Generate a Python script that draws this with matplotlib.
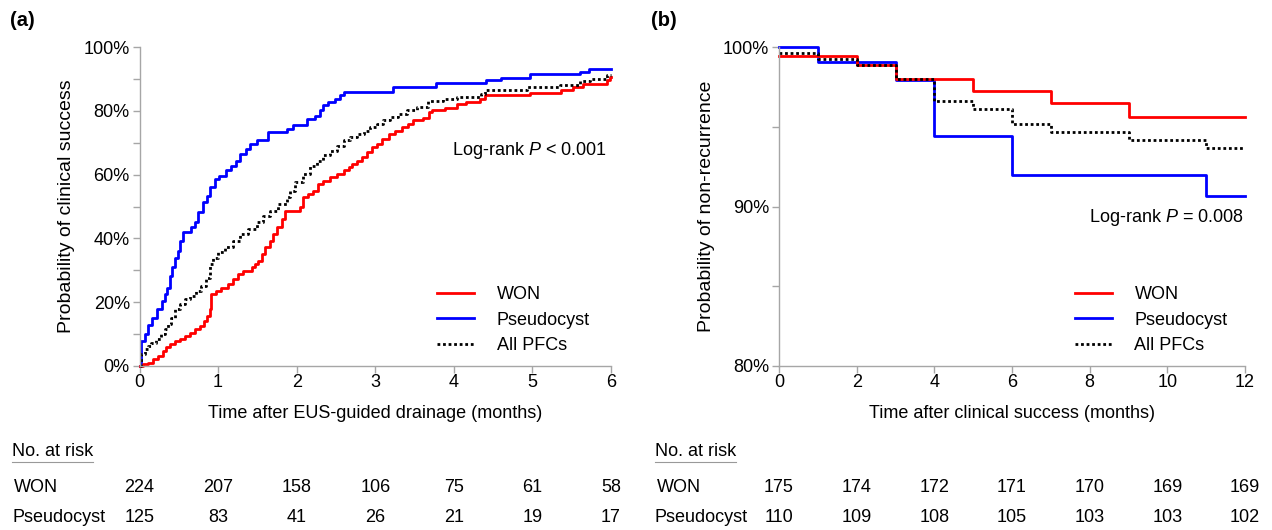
import matplotlib
matplotlib.use("Agg")
import matplotlib.pyplot as plt
import matplotlib.transforms as mtransforms
from matplotlib.ticker import MultipleLocator, FuncFormatter

plt.rcParams['font.family'] = ['Liberation Sans', 'DejaVu Sans']
plt.rcParams['mathtext.fontset'] = 'custom'
plt.rcParams['mathtext.rm'] = 'Liberation Sans'
plt.rcParams['mathtext.it'] = 'Liberation Sans:italic'

# (a) cumulative clinical success (%)
won_a_t = [0, 0.043, 0.106, 0.17, 0.234, 0.298, 0.34, 0.383, 0.447, 0.51, 0.574, 0.638, 0.702, 0.766,
           0.817, 0.86, 0.894, 0.915, 0.97, 1.043, 1.128, 1.191, 1.255, 1.319, 1.426, 1.468, 1.511,
           1.553, 1.596, 1.66, 1.702, 1.745, 1.809, 1.851, 2.043, 2.085, 2.149, 2.213, 2.277, 2.34,
           2.426, 2.51, 2.596, 2.66, 2.702, 2.766, 2.83, 2.894, 2.957, 3.02, 3.08, 3.17, 3.25, 3.34,
           3.42, 3.48, 3.61, 3.69, 3.72, 3.89, 4.04, 4.16, 4.33, 4.40, 4.97, 5.37, 5.52, 5.65, 5.95,
           5.99, 6.0]
won_a_v = [0, 0.5, 1.0, 2.1, 3.1, 4.7, 5.8, 6.8, 7.9, 8.4, 9.4, 10.5, 11.5, 12.6, 14.1, 15.7, 17.8,
           22.5, 23.6, 24.6, 25.7, 27.2, 28.8, 29.8, 30.9, 31.9, 33.0, 35.1, 37.2, 39.3, 41.4, 43.5,
           46.1, 48.7, 49.7, 52.9, 53.9, 55.0, 57.1, 58.1, 59.2, 60.2, 61.3, 62.3, 63.4, 64.4, 65.4,
           67.0, 68.6, 69.6, 71.2, 72.8, 73.8, 74.9, 75.9, 77.2, 77.8, 79.6, 80.1, 81.0, 82.0, 82.9,
           83.8, 84.8, 85.7, 86.4, 87.4, 88.5, 89.8, 90.6, 90.6]

pc_a_t = [0, 0.02, 0.064, 0.106, 0.162, 0.221, 0.285, 0.319, 0.349, 0.383, 0.417, 0.455, 0.489,
          0.519, 0.553, 0.66, 0.711, 0.745, 0.809, 0.86, 0.902, 0.957, 1.013, 1.106, 1.17, 1.226,
          1.285, 1.353, 1.404, 1.489, 1.638, 1.872, 1.957, 2.128, 2.234, 2.298, 2.34, 2.404, 2.489,
          2.553, 2.596, 3.22, 3.77, 4.41, 4.6, 4.97, 5.61, 5.72, 6.0]
pc_a_v = [0, 7.9, 9.9, 13.0, 15.0, 17.8, 20.4, 22.5, 24.6, 28.3, 30.9, 34.0, 36.1, 39.3, 41.9,
          43.5, 45.0, 48.2, 51.3, 53.4, 56.0, 58.6, 59.7, 61.3, 62.8, 64.4, 66.5, 68.1, 69.6, 70.7,
          73.3, 74.3, 75.4, 77.5, 78.5, 80.1, 81.7, 82.9, 83.8, 84.8, 85.9, 87.6, 88.7, 89.5, 90.4,
          91.4, 92.1, 93.2, 93.2]

all_a_t = [0, 0.021, 0.064, 0.106, 0.149, 0.213, 0.277, 0.319, 0.362, 0.404, 0.447, 0.511, 0.574,
           0.638, 0.723, 0.787, 0.851, 0.894, 0.936, 1.0, 1.085, 1.191, 1.277, 1.383, 1.489, 1.574,
           1.66, 1.766, 1.872, 1.915, 1.979, 2.085, 2.17, 2.255, 2.34, 2.426, 2.511, 2.596, 2.681,
           2.766, 2.851, 2.936, 3.02, 3.10, 3.19, 3.29, 3.40, 3.53, 3.67, 3.86, 4.04, 4.35, 4.40,
           4.93, 5.35, 5.61, 5.73, 5.95, 6.0]
all_a_v = [0, 3.7, 5.2, 6.3, 7.3, 8.4, 9.9, 11.5, 13.1, 15.2, 17.8, 19.4, 20.9, 22.0, 23.6, 25.1,
           27.7, 31.9, 34.0, 35.6, 37.2, 39.3, 41.4, 42.9, 45.0, 47.1, 48.7, 50.8, 52.9, 55.0, 57.6,
           60.2, 62.8, 64.4, 66.0, 67.5, 69.1, 70.7, 71.7, 72.8, 73.8, 74.9, 75.9, 77.0, 78.0, 79.1,
           80.1, 81.2, 83.0, 83.8, 84.3, 85.3, 86.6, 87.4, 88.0, 89.3, 90.0, 91.1, 91.1]

# (b) non-recurrence (%)
won_b_t = [0, 2, 3, 5, 7, 9, 12]
won_b_v = [99.43, 98.86, 98.0, 97.26, 96.47, 95.6, 95.6]
pc_b_t = [0, 1, 3, 4, 6, 11, 12]
pc_b_v = [100, 99.05, 97.9, 94.4, 92.0, 90.65, 90.65]
all_b_t = [0, 1, 2, 3, 4, 5, 6, 7, 9, 11, 12]
all_b_v = [99.65, 99.25, 98.9, 98.0, 96.6, 96.1, 95.2, 94.7, 94.2, 93.65, 93.65]

# numbers at risk
risk_a_t = [0, 1, 2, 3, 4, 5, 6]
risk_a_won = [224, 207, 158, 106, 75, 61, 58]
risk_a_pc = [125, 83, 41, 26, 21, 19, 17]
risk_b_t = [0, 2, 4, 6, 8, 10, 12]
risk_b_won = [175, 174, 172, 171, 170, 169, 169]
risk_b_pc = [110, 109, 108, 105, 103, 103, 102]

labels = ['WON', 'Pseudocyst', 'All PFCs']
RED, BLUE = '#ff0000', '#0000ff'
GRAY = '#a6a6a6'
FS = 13

fig = plt.figure(figsize=(12.72, 5.30), dpi=100)
H = 530.0
W = 1272.0
ax_a = fig.add_axes([139.5 / W, 1 - 366 / H, (611 - 139.5) / W, (366 - 47) / H])
ax_b = fig.add_axes([779 / W, 1 - 366 / H, (1245 - 779) / W, (366 - 47) / H])


def style(ax):
    for s in ['top', 'right']:
        ax.spines[s].set_visible(False)
    for s in ['left', 'bottom']:
        ax.spines[s].set_color(GRAY)
        ax.spines[s].set_linewidth(1.0)
    ax.tick_params(which='both', direction='out', color=GRAY, width=1.0, labelsize=FS, length=5)
    ax.tick_params(axis='x', pad=1)
    ax.tick_params(axis='y', pad=2)


pct = FuncFormatter(lambda v, p: f'{v:.0f}%')

# panel a
ax = ax_a
ax.step(pc_a_t, pc_a_v, where='post', color=BLUE, lw=2.0, clip_on=False)
ax.step(won_a_t, won_a_v, where='post', color=RED, lw=2.0, clip_on=False)
ax.step(all_a_t, all_a_v, where='post', color='black', lw=2.0, ls=(0, (1, 1)), clip_on=False)
ax.set_xlim(0, 6)
ax.set_ylim(0, 100)
ax.xaxis.set_major_locator(MultipleLocator(1))
ax.yaxis.set_major_locator(MultipleLocator(20))
ax.yaxis.set_minor_locator(MultipleLocator(10))
ax.yaxis.set_major_formatter(pct)
style(ax)
ax.set_xlabel('Time after EUS-guided drainage (months)', fontsize=FS, labelpad=10)
ax.set_ylabel('Probability of clinical success', fontsize=14, labelpad=6)
ax.text(0.9915, 0.677, 'Log-rank $\\it{P}$ < 0.001', transform=ax.transAxes, ha='right',
        va='center', fontsize=FS)

# panel b
ax = ax_b
ax.step(pc_b_t, pc_b_v, where='post', color=BLUE, lw=2.0, clip_on=False)
ax.step(won_b_t, won_b_v, where='post', color=RED, lw=2.0, clip_on=False)
ax.step(all_b_t, all_b_v, where='post', color='black', lw=2.0, ls=(0, (1, 1)), clip_on=False)
ax.set_xlim(0, 12)
ax.set_ylim(80, 100)
ax.xaxis.set_major_locator(MultipleLocator(2))
ax.yaxis.set_major_locator(MultipleLocator(10))
ax.yaxis.set_minor_locator(MultipleLocator(5))
ax.yaxis.set_major_formatter(pct)
style(ax)
ax.set_xlabel('Time after clinical success (months)', fontsize=FS, labelpad=10)
ax.set_ylabel('Probability of non-recurrence', fontsize=14, labelpad=6)
ax.text(0.998, 0.464, 'Log-rank $\\it{P}$ = 0.008', transform=ax.transAxes, ha='right',
        va='center', fontsize=FS)

for ax, lx in ((ax_a, 0.631), (ax_b, 0.635)):
    ax.legend(ax.get_lines()[1:2] + ax.get_lines()[0:1] + ax.get_lines()[2:3], labels,
              loc='upper left', bbox_to_anchor=(lx, 0.25), frameon=False, fontsize=FS,
              handlelength=2.05, handletextpad=1.25, labelspacing=0.47, borderpad=0,
              borderaxespad=0)

fig.text(10 / W, 1 - 21 / H, '(a)', fontsize=14.5, fontweight='bold', va='center')
fig.text(651 / W, 1 - 21 / H, '(b)', fontsize=14.5, fontweight='bold', va='center')

# numbers at risk
fig.canvas.draw()
renderer = fig.canvas.get_renderer()
for ax, x0, tt, won_r, pc_r in [(ax_a, 12, risk_a_t, risk_a_won, risk_a_pc),
                                (ax_b, 655, risk_b_t, risk_b_won, risk_b_pc)]:
    t = fig.text(x0 / W, 1 - 452 / H, 'No. at risk', fontsize=FS, va='center')
    bb = t.get_window_extent(renderer).transformed(fig.transFigure.inverted())
    fig.add_artist(plt.Line2D([bb.x0, bb.x1], [bb.y0 - 0.002, bb.y0 - 0.002],
                              transform=fig.transFigure, color='#999999', lw=0.8))
    fig.text((x0 + 2) / W, 1 - 487 / H, 'WON', fontsize=FS, va='center')
    fig.text(x0 / W, 1 - 518 / H, 'Pseudocyst', fontsize=FS, va='center')
    trans = mtransforms.blended_transform_factory(ax.transData, fig.transFigure)
    for xv, a, b in zip(tt, won_r, pc_r):
        ax.text(xv, 1 - 487 / H, str(a), transform=trans, ha='center', va='center',
                fontsize=FS, clip_on=False)
        ax.text(xv, 1 - 518 / H, str(b), transform=trans, ha='center', va='center',
                fontsize=FS, clip_on=False)

fig.savefig('out.png', dpi=100)
